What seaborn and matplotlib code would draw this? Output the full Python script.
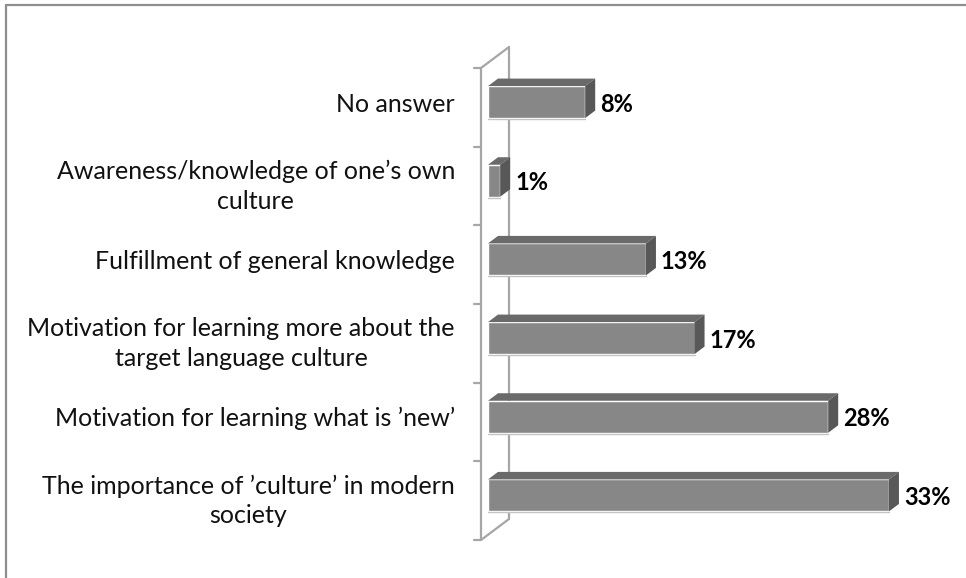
import matplotlib
matplotlib.use("Agg")
import matplotlib.pyplot as plt
from matplotlib.patches import Polygon
from matplotlib.lines import Line2D
from matplotlib.transforms import ScaledTranslation
import seaborn as sns
import pandas as pd

# Survey answers and shares (%)
categories = [
    "No answer",
    "Awareness/knowledge of one\u2019s own\nculture",
    "Fulfillment of general knowledge",
    "Motivation for learning more about the\ntarget language culture",
    "Motivation for learning what is \u2019new\u2019",
    "The importance of \u2019culture\u2019 in modern\nsociety",
]
shares = [8, 1, 13, 17, 28, 33]
value_labels = [f"{v}%" for v in shares]

sns.set_style("white")
plt.rcParams["font.family"] = ["Lato", "DejaVu Sans"]

W, H, DPI = 966, 578, 100
fig = plt.figure(figsize=(W / DPI, H / DPI), dpi=DPI)

# plot area in pixels (front plane of the 3-D box)
left_px, right_px = 488, 488 + 38 * 12.15
top_px, bot_px = 62.75, 534.75
ax = fig.add_axes([left_px / W, 1 - bot_px / H,
                   (right_px - left_px) / W, (bot_px - top_px) / H])

df = pd.DataFrame({"category": categories, "share": shares})
sns.barplot(data=df, y="category", x="share", orient="h", ax=ax,
            color="#878787", saturation=1, width=0.407, zorder=3)
ax.set_xlim(0, 38)
ax.set_ylim(5.5, -0.5)
for s in ax.spines.values():
    s.set_visible(False)
ax.set_xticks([])
ax.set_xlabel("")
ax.set_ylabel("")
ax.tick_params(axis="y", length=0, pad=23.8, labelsize=18, labelcolor="#111111")
for t in ax.get_yticklabels():
    t.set_multialignment("center")
    t.set_linespacing(1.35)


def shifted(dx_px, dy_px):
    """Data transform moved by pixel offsets (dy positive = downwards)."""
    return ax.transData + ScaledTranslation(dx_px / DPI, -dy_px / DPI, fig.dpi_scale_trans)


# side wall of the 3-D frame
wall_col = "#a6a6a6"
lw = 1.6
front = shifted(-7, 5.25)
back = shifted(21, -15.75)
ax.add_line(Line2D([0, 0], [-0.5, 5.5], color=wall_col, lw=lw, transform=front,
                   zorder=1, clip_on=False))
ax.add_line(Line2D([0, 0], [-0.5, 5.5], color=wall_col, lw=lw, transform=back,
                   zorder=1, clip_on=False))
fig.canvas.draw()
for yv in (-0.5, 5.5):
    p0 = front.transform((0, yv))
    p1 = back.transform((0, yv))
    fig.add_artist(Line2D([p0[0], p1[0]], [p0[1], p1[1]], color=wall_col, lw=lw,
                          transform=None, zorder=1))
for k in range(7):
    p = front.transform((0, k - 0.5))
    fig.add_artist(Line2D([p[0] - 7, p[0]], [p[1], p[1]], color=wall_col, lw=lw,
                          transform=None, zorder=1))

# depth faces of the bars
dx, dy = 10, 7.5
for patch, lab in zip(ax.patches, value_labels):
    x0, y0 = patch.get_x(), patch.get_y()
    x1, y1 = x0 + patch.get_width(), y0 + patch.get_height()
    (ax0, ay_top), (ax1, ay_bot) = ax.transData.transform([(x0, y0), (x1, y1)])
    top = Polygon([(ax0, ay_top), (ax1, ay_top), (ax1 + dx, ay_top + dy),
                   (ax0 + dx, ay_top + dy)], closed=True, transform=None,
                  facecolor="#6a6a6a", edgecolor="none", zorder=4)
    side = Polygon([(ax1, ay_top), (ax1, ay_bot), (ax1 + dx, ay_bot + dy),
                    (ax1 + dx, ay_top + dy)], closed=True, transform=None,
                   facecolor="#585858", edgecolor="none", zorder=4)
    fig.add_artist(top)
    fig.add_artist(side)
    fig.add_artist(Line2D([ax0, ax1], [ay_bot - 1, ay_bot - 1], color="#c4c4c4",
                          lw=1, transform=None, zorder=4))
    ax.annotate(lab, xy=(x1, (y0 + y1) / 2), xytext=(15 * 0.72, -1.5),
                textcoords="offset points", ha="left", va="center",
                fontsize=17, fontweight="bold", color="black")

# chart border
border = "#8e8e8e"
fig.add_artist(Line2D([6 / W, 6 / W], [0, 1 - 5 / H], color=border, lw=1.6,
                      transform=fig.transFigure))
fig.add_artist(Line2D([6 / W, 1], [1 - 5 / H, 1 - 5 / H], color=border, lw=1.6,
                      transform=fig.transFigure))

fig.savefig("out.png", dpi=DPI)
